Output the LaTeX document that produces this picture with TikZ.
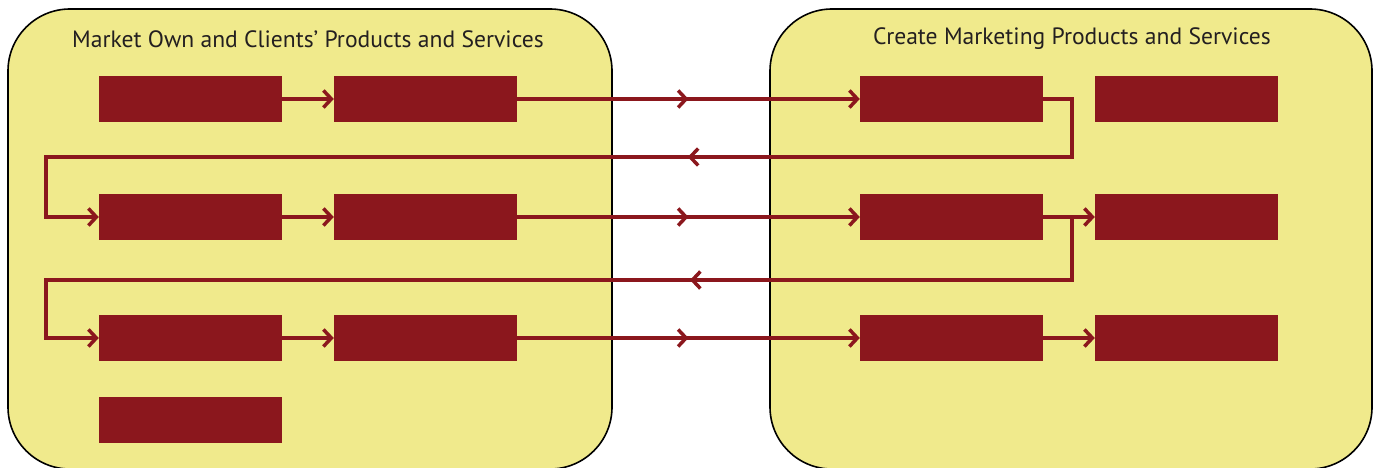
\documentclass[tikz,border=0pt]{standalone}
\usepackage{fontspec}
\setmainfont{PT Sans}
\usetikzlibrary{arrows.meta, decorations.markings}
\definecolor{panelyellow}{RGB}{240,234,140}
\definecolor{stepred}{RGB}{139,23,29}
\definecolor{titlegray}{RGB}{35,31,32}

\begin{document}
\begin{tikzpicture}[x=1pt, y=-1pt,
    panel/.style={draw=black, line width=1.6pt, fill=panelyellow, rounded corners=62pt,
      minimum width=604pt, minimum height=460pt, inner sep=0pt},
    paneltitle/.style={text=titlegray, font=\fontsize{23.6}{28}\selectfont},
    stepbox/.style={fill=stepred, minimum width=183pt, minimum height=46pt, inner sep=0pt},
    link/.style={draw=stepred, line width=3.5pt,
      -{Straight Barb[length=8pt, width=17pt, line width=3.5pt]}},
    midarrow/.style={postaction={decorate}, decoration={markings,
      mark=at position #1 with {\arrow{Straight Barb[length=8pt, width=17pt, line width=3.5pt]}}}}]
  \useasboundingbox (0,0) rectangle (1381,468);

  \node[panel] (market) at (310,239) {};
  \node[panel, minimum width=602pt] (create) at (1071,239) {};
  \node[paneltitle] (markettitle) at (308,39) {Market Own and Clients’ Products and Services};
  \node[paneltitle] (createtitle) at (1072,39) {Create Marketing Products and Services};

  \node[stepbox] (m1a) at (190.5,99) {};
  \node[stepbox] (m1b) at (425.5,99) {};
  \node[stepbox] (m2a) at (190.5,217) {};
  \node[stepbox] (m2b) at (425.5,217) {};
  \node[stepbox] (m3a) at (190.5,338) {};
  \node[stepbox] (m3b) at (425.5,338) {};
  \node[stepbox] (m4a) at (190.5,420) {};

  \node[stepbox] (c1a) at (951.5,99) {};
  \node[stepbox] (c1b) at (1186.5,99) {};
  \node[stepbox] (c2a) at (951.5,217) {};
  \node[stepbox] (c2b) at (1186.5,217) {};
  \node[stepbox] (c3a) at (951.5,338) {};
  \node[stepbox] (c3b) at (1186.5,338) {};

  \coordinate (turn1) at (1072,157);
  \coordinate (back1) at (46,157);
  \coordinate (fork2) at (1072,217);
  \coordinate (turn2) at (1072,280);
  \coordinate (back2) at (46,280);

  \draw[link] (m1a) -- (m1b);
  \draw[link, midarrow=0.5] (m1b) -- (c1a);
  \draw[link, midarrow=471pt] (c1a.east) -| (turn1) -- (back1) |- (m2a.west);

  \draw[link] (m2a) -- (m2b);
  \draw[link, midarrow=0.5] (m2b) -- (c2a);
  \draw[link] (c2a) -- (c2b);
  \draw[link, midarrow=445pt] (fork2) -- (turn2) -- (back2) |- (m3a.west);

  \draw[link] (m3a) -- (m3b);
  \draw[link, midarrow=0.5] (m3b) -- (c3a);
  \draw[link] (c3a) -- (c3b);
\end{tikzpicture}
\end{document}
